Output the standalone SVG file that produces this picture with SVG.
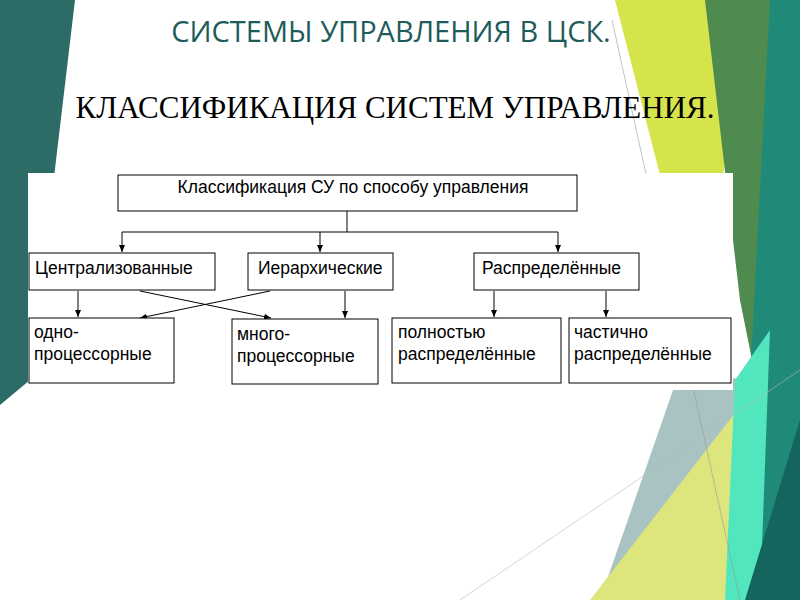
<svg xmlns="http://www.w3.org/2000/svg" width="800" height="600" viewBox="0 0 800 600">
<defs>
<style>
.box{fill:#fff;stroke:#000;stroke-width:1}
.t{font-family:"Liberation Sans",Arial,sans-serif;font-size:17.5px;fill:#000}
.c{stroke:#000;stroke-width:1;fill:none}
</style>
<marker id="a" markerWidth="8" markerHeight="8" refX="7" refY="4" orient="auto" markerUnits="userSpaceOnUse"><path d="M0,1 L7,4 L0,7 z" fill="#000"/></marker>
</defs>
<rect width="800" height="600" fill="#fff"/>
<polygon points="0,0 75,0 30,380 0,405" fill="#2d6b66"/>
<polygon points="615,0 740,0 700,420 660,175" fill="#d6e44c"/>
<polygon points="705,0 785,0 760,400 740,300" fill="#4f8a4f"/>
<polygon points="770,0 800,0 800,600 745,600 750,380" fill="#1f8a77"/>
<polygon points="680,370 745,380 725,600 600,600" fill="#a9c3c2"/>
<polygon points="590,600 745,400 740,600" fill="#dde67c"/>
<polygon points="735,380 770,330 760,600 725,600" fill="#52e6bf"/>
<polygon points="745,600 800,420 800,600" fill="#15655f"/>
<line x1="612" y1="20" x2="740" y2="600" stroke="#999" stroke-width="0.6"/>
<line x1="460" y1="600" x2="800" y2="370" stroke="#bbb" stroke-width="0.6"/>
<rect x="28" y="173" width="705" height="217" fill="#fff"/>
<text x="391" y="42" text-anchor="middle" font-family="'Open Sans',sans-serif" font-size="29" fill="#1e5c5a">СИСТЕМЫ УПРАВЛЕНИЯ В ЦСК.</text>
<text x="395" y="118" text-anchor="middle" font-family="'Liberation Serif',serif" font-size="31" fill="#000">КЛАССИФИКАЦИЯ СИСТЕМ УПРАВЛЕНИЯ.</text>
<g id="connectors">
<path class="c" d="M347,211 V232 M122,232 H558"/>
<line class="c" x1="122" y1="232" x2="122" y2="252" marker-end="url(#a)"/>
<line class="c" x1="320" y1="232" x2="320" y2="252" marker-end="url(#a)"/>
<line class="c" x1="558" y1="232" x2="558" y2="252" marker-end="url(#a)"/>
<line class="c" x1="78" y1="291" x2="78" y2="317" marker-end="url(#a)"/>
<line class="c" x1="140" y1="291" x2="271" y2="318" marker-end="url(#a)"/>
<line class="c" x1="270" y1="291" x2="140" y2="318" marker-end="url(#a)"/>
<line class="c" x1="345" y1="291" x2="345" y2="318" marker-end="url(#a)"/>
<line class="c" x1="494" y1="291" x2="494" y2="317" marker-end="url(#a)"/>
<line class="c" x1="606" y1="291" x2="606" y2="317" marker-end="url(#a)"/>
</g>
<g id="root"><rect class="box" x="118" y="175" width="459" height="36"/><text class="t" x="353" y="193" text-anchor="middle">Классификация СУ по способу управления</text></g>
<g id="central"><rect class="box" x="29" y="253" width="186" height="37"/><text class="t" x="35" y="274">Централизованные</text></g>
<g id="hier"><rect class="box" x="248" y="253" width="145" height="37"/><text class="t" x="258" y="274">Иерархические</text></g>
<g id="distr"><rect class="box" x="474" y="253" width="165" height="37"/><text class="t" x="482" y="274">Распределённые</text></g>
<g id="one"><rect class="box" x="29" y="318" width="145" height="65"/><text class="t" x="34" y="338">одно-</text><text class="t" x="34" y="360">процессорные</text></g>
<g id="multi"><rect class="box" x="232" y="319" width="146" height="65"/><text class="t" x="237" y="340">много-</text><text class="t" x="237" y="362">процессорные</text></g>
<g id="full"><rect class="box" x="392" y="318" width="169" height="65"/><text class="t" x="398" y="338">полностью</text><text class="t" x="398" y="360">распределённые</text></g>
<g id="part"><rect class="box" x="569" y="318" width="162" height="65"/><text class="t" x="574" y="338">частично</text><text class="t" x="574" y="360">распределённые</text></g>
</svg>
